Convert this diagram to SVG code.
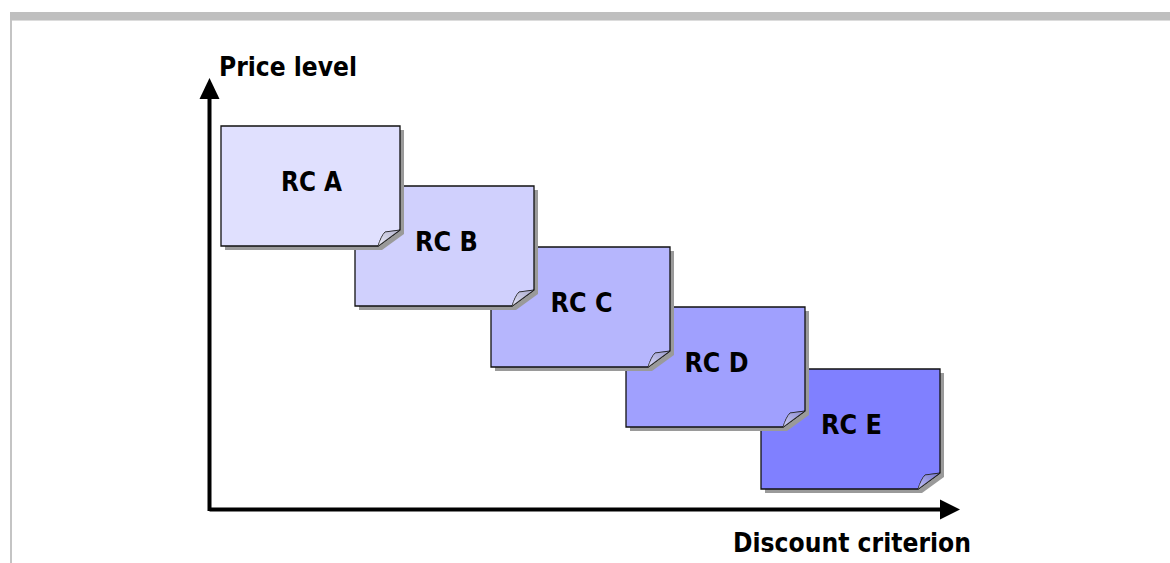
<svg xmlns="http://www.w3.org/2000/svg" width="1170" height="563" viewBox="0 0 1170 563">
  <style>
    .lbl { font-family: "DejaVu Sans", Verdana, sans-serif; font-weight: bold; font-size: 26px; fill: #000; }
    .page { stroke: #111; stroke-width: 1.3; }
    .shadow { fill: #9a9a9a; }
    .fold { stroke: #111; stroke-width: 1; }
    .axis { stroke: #000; stroke-width: 4; fill: none; }
  </style>
  <defs>
    <linearGradient id="foldGrad" x1="0" y1="1" x2="1" y2="0">
      <stop offset="0" stop-color="#ffffff" stop-opacity="0.55"/>
      <stop offset="1" stop-color="#707080" stop-opacity="0.35"/>
    </linearGradient>
    <path id="pageShape" d="M0,0 H179 V104 L157,120 H0 Z"/>
    <path id="foldShape" d="M157,120 C159,114 161,109 164,106 L179,104 Z"/>
  </defs>
  <rect width="1170" height="563" fill="#fff"/>
  <g id="frame">
    <rect x="10" y="12" width="1160" height="8" fill="#bfbfbf"/>
    <rect x="10" y="20" width="1160" height="1" fill="#dcdcdc"/>
    <rect x="10" y="20" width="2" height="543" fill="#c4c4c4"/>
  </g>
  <g id="connectors">
    <line class="axis" x1="209.5" y1="96" x2="209.5" y2="511"/>
    <polygon points="209.5,78 199.5,99 219.5,99" fill="#000"/>
    <line class="axis" x1="209.5" y1="509.5" x2="942" y2="509.5"/>
    <polygon points="960,509.5 940,499.5 940,519.5" fill="#000"/>
  </g>
  <g id="axis-labels">
    <text class="lbl" x="219" y="76" textLength="138" lengthAdjust="spacingAndGlyphs">Price level</text>
    <text class="lbl" x="733" y="552" textLength="238" lengthAdjust="spacingAndGlyphs">Discount criterion</text>
  </g>
  <g id="rcE" transform="translate(761,369)">
    <use href="#pageShape" class="shadow" transform="translate(4,4)"/>
    <use href="#pageShape" class="page" fill="#8080ff"/>
    <use href="#foldShape" class="fold" fill="#8080ff"/>
    <use href="#foldShape" fill="url(#foldGrad)"/>
    <text class="lbl" x="90.5" y="65" text-anchor="middle" textLength="61" lengthAdjust="spacingAndGlyphs">RC E</text>
  </g>
  <g id="rcD" transform="translate(626,307)">
    <use href="#pageShape" class="shadow" transform="translate(4,4)"/>
    <use href="#pageShape" class="page" fill="#a0a0fe"/>
    <use href="#foldShape" class="fold" fill="#a0a0fe"/>
    <use href="#foldShape" fill="url(#foldGrad)"/>
    <text class="lbl" x="90.5" y="65" text-anchor="middle" textLength="64" lengthAdjust="spacingAndGlyphs">RC D</text>
  </g>
  <g id="rcC" transform="translate(491,247)">
    <use href="#pageShape" class="shadow" transform="translate(4,4)"/>
    <use href="#pageShape" class="page" fill="#b6b6fd"/>
    <use href="#foldShape" class="fold" fill="#b6b6fd"/>
    <use href="#foldShape" fill="url(#foldGrad)"/>
    <text class="lbl" x="90.5" y="65" text-anchor="middle" textLength="62" lengthAdjust="spacingAndGlyphs">RC C</text>
  </g>
  <g id="rcB" transform="translate(355,186)">
    <use href="#pageShape" class="shadow" transform="translate(4,4)"/>
    <use href="#pageShape" class="page" fill="#d0d0fd"/>
    <use href="#foldShape" class="fold" fill="#d0d0fd"/>
    <use href="#foldShape" fill="url(#foldGrad)"/>
    <text class="lbl" x="91.5" y="65" text-anchor="middle" textLength="63" lengthAdjust="spacingAndGlyphs">RC B</text>
  </g>
  <g id="rcA" transform="translate(221,126)">
    <use href="#pageShape" class="shadow" transform="translate(4,4)"/>
    <use href="#pageShape" class="page" fill="#e0e0fe"/>
    <use href="#foldShape" class="fold" fill="#e0e0fe"/>
    <use href="#foldShape" fill="url(#foldGrad)"/>
    <text class="lbl" x="90.5" y="65" text-anchor="middle" textLength="61" lengthAdjust="spacingAndGlyphs">RC A</text>
  </g>
</svg>
